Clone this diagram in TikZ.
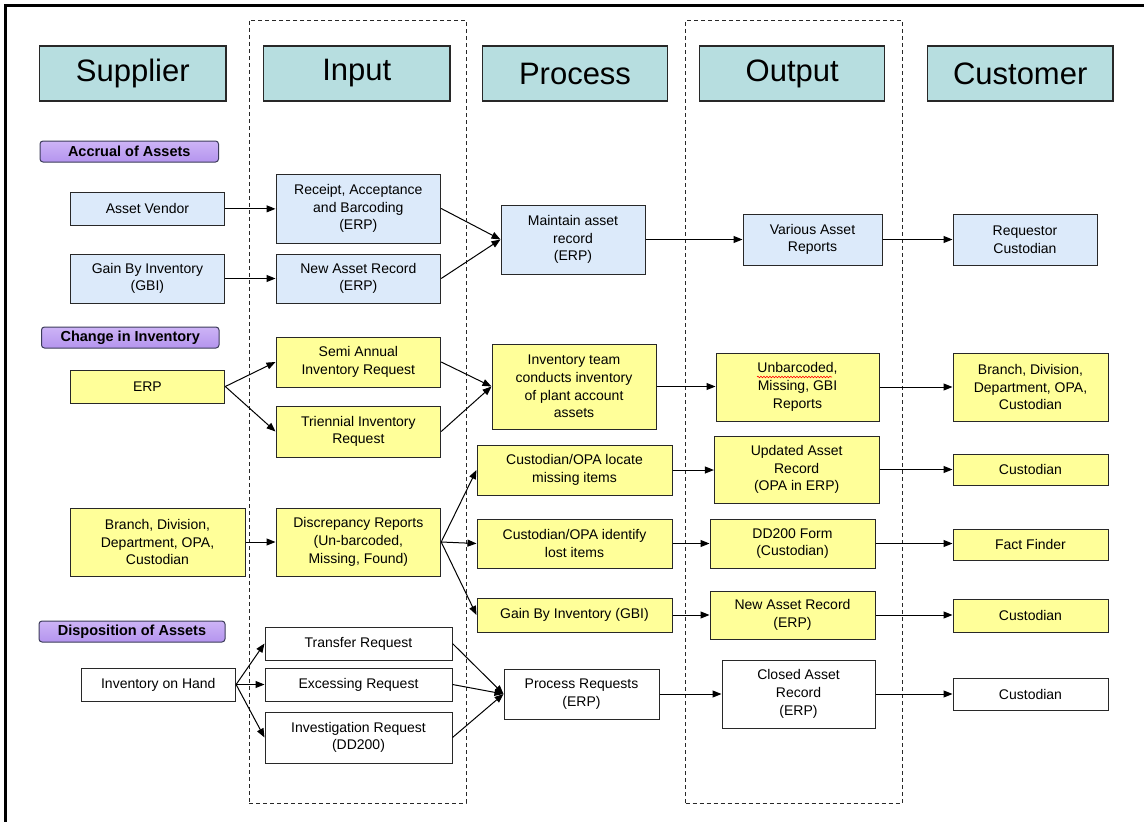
\documentclass[tikz,border=0pt]{standalone}
\usepackage{fontspec}
\setmainfont{Liberation Sans}
\usetikzlibrary{arrows.meta,decorations.pathmorphing}
\definecolor{hdrteal}{RGB}{183,222,224}
\definecolor{boxblue}{RGB}{220,234,250}
\definecolor{boxyel}{RGB}{255,255,153}
\definecolor{edge}{RGB}{40,40,40}
\definecolor{sectop}{RGB}{205,180,246}
\definecolor{secmid}{RGB}{196,218,238}
\definecolor{secbot}{RGB}{180,148,238}
\tikzset{
  box/.style={draw=edge, line width=1pt, inner sep=0pt, align=center,
    font=\fontsize{14}{17.7}\selectfont},
  bluebox/.style={box, fill=boxblue},
  yelbox/.style={box, fill=boxyel},
  whitebox/.style={box, fill=white},
  hdr/.style={draw=edge, line width=1.3pt, fill=hdrteal, inner sep=0pt,
    font=\fontsize{31}{36}\selectfont},
  sect/.style={draw={rgb,255:red,60;green,60;blue,90}, rounded corners=3pt, line width=1pt,
    top color=sectop, middle color=secmid, bottom color=secbot, inner sep=0pt,
    font=\bfseries\fontsize{14.5}{16}\selectfont},
  conn/.style={-{Triangle[length=9pt,width=7pt]}, line width=1pt, draw=black},
  lane/.style={draw=edge, dash pattern=on 4pt off 3pt, line width=1pt, inner sep=0pt}
}
% \bx{style}{x1}{y1}{x2}{y2}{name}{text}
\newcommand\bx[7]{%
  \node[#1, minimum width={(#4-#2)*1pt}, minimum height={(#5-#3)*1pt}]
    (#6) at ({(#2+#4)/2},{(#3+#5)/2}) {#7};}
\begin{document}
\begin{tikzpicture}[x=1pt,y=-1pt]
\useasboundingbox (0,0) rectangle (1144,822);
\fill[white] (0,0) rectangle (1144,822);
% frame
\draw[line width=3pt] (5,822) -- (5,5) -- (1144,5);
% lanes
\bx{lane}{249}{20}{466}{803}{laneIn}{}
\bx{lane}{685.5}{20}{902}{803}{laneOut}{}
% headers
\bx{hdr}{39.6}{46}{226}{101}{hs}{Supplier}
\bx{hdr}{263.7}{46}{450}{101}{hi}{Input}
\bx{hdr}{482.6}{46}{667.4}{101}{hp}{Process}
\bx{hdr}{699.6}{46}{884.8}{101}{ho}{Output}
\bx{hdr}{927.4}{46}{1113}{101}{hc}{Customer}
% sections
\bx{sect}{40}{141}{218.5}{162}{s1}{Accrual of Assets}
\bx{sect}{41.5}{327}{219}{348}{s2}{Change in Inventory}
\bx{sect}{39}{621}{225}{642}{s3}{Disposition of Assets}
% blue
\bx{bluebox}{70}{192}{224.8}{225.7}{av}{Asset Vendor}
\bx{bluebox}{70}{254}{224.8}{303}{gbi}{Gain By Inventory\\(GBI)}
\bx{bluebox}{276}{174}{440.7}{243}{rec}{Receipt, Acceptance\\and Barcoding\\(ERP)}
\bx{bluebox}{276}{254}{440.7}{303}{nar}{New Asset Record\\(ERP)}
\bx{bluebox}{501}{205}{645}{274}{mar}{Maintain asset\\record\\(ERP)}
\bx{bluebox}{743}{214}{882}{265}{var}{Various Asset\\Reports}
\bx{bluebox}{953}{214}{1097}{265}{req}{Requestor\\Custodian}
% yellow
\bx{yelbox}{70}{370}{224.8}{403}{erp}{ERP}
\bx{yelbox}{276}{337}{440.7}{387}{semi}{Semi Annual\\Inventory Request}
\bx{yelbox}{276}{406}{440.7}{457}{tri}{Triennial Inventory\\Request}
\bx{yelbox}{70}{508}{245}{576}{brl}{Branch, Division,\\Department, OPA,\\Custodian}
\bx{yelbox}{276}{508}{440.7}{576}{disc}{Discrepancy Reports\\(Un-barcoded,\\Missing, Found)}
\bx{yelbox}{492}{344}{656}{429}{team}{Inventory team\\conducts inventory\\of plant account\\assets}
\bx{yelbox}{477}{445}{672}{495}{loc}{Custodian/OPA locate\\missing items}
\bx{yelbox}{477}{519}{672}{568}{idf}{Custodian/OPA identify\\lost items}
\bx{yelbox}{477}{598}{672}{632}{gproc}{Gain By Inventory (GBI)}
\bx{yelbox}{716}{353}{879}{421}{unb}{Unbarcoded,\\Missing, GBI\\Reports}
\bx{yelbox}{714.4}{436}{879}{503}{upd}{Updated Asset\\Record\\(OPA in ERP)}
\bx{yelbox}{710}{519}{875}{568}{dd}{DD200 Form\\(Custodian)}
\bx{yelbox}{710}{591}{875}{639}{nar2}{New Asset Record\\(ERP)}
\bx{yelbox}{953}{353}{1108}{421}{brr}{Branch, Division,\\Department, OPA,\\Custodian}
\bx{yelbox}{953}{454}{1108}{485}{cus1}{Custodian}
\bx{yelbox}{953}{529}{1108}{560}{ff}{Fact Finder}
\bx{yelbox}{953}{599}{1108}{632}{cus2}{Custodian}
% white
\bx{whitebox}{81}{668}{235.6}{701}{ioh}{Inventory on Hand}
\bx{whitebox}{265}{627}{452}{660}{tr}{Transfer Request}
\bx{whitebox}{265}{668}{452}{701}{ex}{Excessing Request}
\bx{whitebox}{265}{712}{452}{763}{inv}{Investigation Request\\(DD200)}
\bx{whitebox}{504}{669}{659}{719}{pr}{Process Requests\\(ERP)}
\bx{whitebox}{722}{660}{875}{728}{cl}{Closed Asset\\Record\\(ERP)}
\bx{whitebox}{953}{678}{1108}{710}{cus3}{Custodian}
% spell-check squiggle
\draw[red, line width=0.6pt, decorate, decoration={snake, amplitude=0.8pt, segment length=3pt}] (757,377) -- (832,377);
% connectors: accrual
\draw[conn] (av.east) -- (av.east -| rec.west);
\draw[conn] (gbi.east) -- (gbi.east -| nar.west);
\draw[conn] (rec.east) -- (mar.west);
\draw[conn] (nar.east) -- (mar.west);
\draw[conn] (mar.east) -- (mar.east -| var.west);
\draw[conn] (var.east) -- (var.east -| req.west);
% change in inventory
\draw[conn] (erp.east) -- (semi.west);
\draw[conn] (erp.east) -- (tri.west);
\draw[conn] (semi.east) -- (team.west);
\draw[conn] (tri.east) -- (team.west);
\draw[conn] (team.east) -- (team.east -| unb.west);
\draw[conn] (unb.east) -- (unb.east -| brr.west);
\draw[conn] (brl.east) -- (brl.east -| disc.west);
\draw[conn] (disc.east) -- (loc.west);
\draw[conn] (disc.east) -- (idf.west);
\draw[conn] (disc.east) -- (gproc.west);
\draw[conn] (loc.east) -- (loc.east -| upd.west);
\draw[conn] (idf.east) -- (idf.east -| dd.west);
\draw[conn] (gproc.east) -- (gproc.east -| nar2.west);
\draw[conn] (upd.east) -- (upd.east -| cus1.west);
\draw[conn] (dd.east) -- (dd.east -| ff.west);
\draw[conn] (nar2.east) -- (nar2.east -| cus2.west);
% disposition
\draw[conn] (ioh.east) -- (tr.west);
\draw[conn] (ioh.east) -- (ex.west);
\draw[conn] (ioh.east) -- (inv.west);
\draw[conn] (tr.east) -- (pr.west);
\draw[conn] (ex.east) -- (pr.west);
\draw[conn] (inv.east) -- (pr.west);
\draw[conn] (pr.east) -- (pr.east -| cl.west);
\draw[conn] (cl.east) -- (cl.east -| cus3.west);
\end{tikzpicture}
\end{document}
